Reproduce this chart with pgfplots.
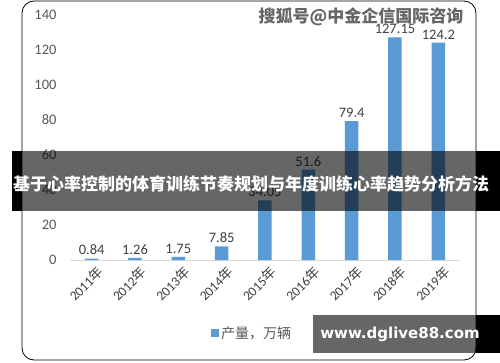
\documentclass[border=0pt]{standalone}
\usepackage{pgfplots}
\pgfplotsset{compat=1.18}
\usepackage{fontspec}
\setmainfont{Carlito}
\newfontfamily\cjk{Noto Sans CJK SC}
\newfontfamily\dejavu{DejaVu Sans}
\definecolor{barblue}{HTML}{5B9BD5}
\definecolor{lbl}{HTML}{404040}
\definecolor{tickc}{HTML}{595959}
\definecolor{axisgray}{HTML}{D9D9D9}
\pgfplotstableread{
x y lab
0 0.84 0.84
1 1.26 1.26
2 1.75 1.75
3 7.85 7.85
4 34.05 34.05
5 51.6 51.6
6 79.4 79.4
7 127.15 127.15
8 124.2 124.2
}\prodtable
\begin{document}
\begin{tikzpicture}
\useasboundingbox (0pt,0pt) rectangle (500pt,362pt);
\fill[white] (0pt,0pt) rectangle (500pt,362pt);
\draw[black, line width=0.8pt, rounded corners=12pt] (22pt,2pt) rectangle (476pt,361pt);
\begin{axis}[
  at={(70pt,102pt)}, anchor=south west,
  scale only axis, width=390pt, height=245pt,
  xmin=-0.5, xmax=8.5, ymin=0, ymax=140,
  ytick={0,20,...,140},
  xtick={0,...,8},
  xticklabels={2011\cjk{年},2012\cjk{年},2013\cjk{年},2014\cjk{年},2015\cjk{年},2016\cjk{年},2017\cjk{年},2018\cjk{年},2019\cjk{年}},
  axis lines*=left,
  y axis line style={draw=none},
  x axis line style={draw=axisgray, line width=0.9pt},
  major tick length=0pt,
  /pgf/number format/assume math mode=true,
  yticklabel style={font=\fontsize{14.5}{16}\selectfont, text=tickc, xshift=-10pt},
  xticklabel style={font=\fontsize{13.5}{15}\selectfont, text=lbl, rotate=45, anchor=north east, xshift=3pt, yshift=-3pt},
  ybar, bar width=13.5pt,
  nodes near coords,
  point meta=explicit symbolic,
  every node near coord/.append style={font=\fontsize{14.5}{16}\selectfont, text=lbl},
  legend style={at={(0.467,-0.298)}, anchor=center, draw=none, fill=none, font=\cjk\fontsize{14}{16}\selectfont, text=tickc},
  legend image code/.code={\fill[barblue] (0pt,-4pt) rectangle (8pt,4pt);},
]
\addplot[fill=barblue, draw=none] table[x=x, y=y, meta=lab] {\prodtable};
\addlegendentry{产量，万辆}
\end{axis}
% banner
\fill[black] (12pt,151pt) rectangle (22pt,211pt);
\fill[black] (476pt,151pt) rectangle (500pt,211pt);
\fill[black, opacity=0.6] (22pt,151pt) rectangle (476pt,211pt);
\node[text=white, font=\cjk\bfseries\fontsize{17}{20}\selectfont, inner sep=0pt] at (251pt,178pt) {基于心率控制的体育训练节奏规划与年度训练心率趋势分析方法};
% watermark
\node[text=black!60, font=\cjk\bfseries\fontsize{17}{20}\selectfont, inner sep=0pt] at (361pt,345pt) {搜狐号@中金企信国际咨询};
% bottom box
\fill[black] (476pt,9pt) rectangle (500pt,47pt);
\fill[black, opacity=0.6] (313pt,9pt) rectangle (476pt,47pt);
\node[text=white, font=\dejavu\bfseries\fontsize{15}{18}\selectfont, inner sep=0pt] at (400pt,28pt) {www.dglive88.com};
\end{tikzpicture}
\end{document}
